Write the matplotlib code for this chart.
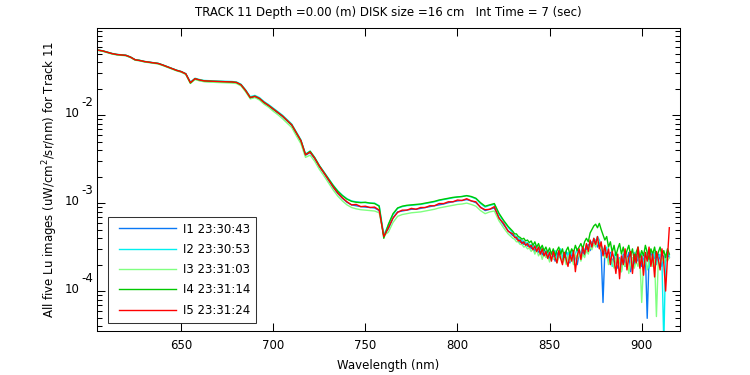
import numpy as np
import matplotlib
matplotlib.use("Agg")
import matplotlib.pyplot as plt
from matplotlib.ticker import LogLocator, NullFormatter, FixedLocator
from matplotlib.lines import Line2D
from matplotlib.legend_handler import HandlerLine2D

plt.rcParams['font.family'] = ['DejaVu Sans']

# wavelength grid (nm): coarse in the smooth part, 1 nm in the noisy tail
wavelength = np.concatenate([np.arange(605, 828, 2.5), np.arange(830, 915.5, 1.0)])

# log10 of Lu (uW/cm^2/sr/nm)
I1_log = [
    -1.262, -1.272, -1.287, -1.302, -1.312, -1.317, -1.322, -1.342, -1.372, -1.38,
    -1.392, -1.40, -1.407, -1.414, -1.432, -1.452, -1.472, -1.492, -1.507, -1.532,
    -1.625, -1.59, -1.605, -1.615, -1.618, -1.62, -1.622, -1.623, -1.625, -1.627,
    -1.633, -1.66, -1.725, -1.80, -1.79, -1.815, -1.86, -1.895, -1.935, -1.975,
    -2.015, -2.065, -2.115, -2.205, -2.295, -2.455, -2.425, -2.495, -2.585, -2.66,
    -2.74, -2.82, -2.89, -2.945, -2.99, -3.02, -3.03, -3.04, -3.045, -3.05,
    -3.055, -3.085, -3.37, -3.29, -3.17, -3.10, -3.09, -3.08, -3.07, -3.07,
    -3.06, -3.05, -3.04, -3.03, -3.02, -3.01, -2.995, -2.985, -2.975, -2.97,
    -2.96, -2.975, -2.995, -3.045, -3.085, -3.07, -3.055, -3.165, -3.245, -3.315,
    -3.37, -3.37, -3.41, -3.41, -3.45, -3.43, -3.47, -3.45, -3.49, -3.47,
    -3.52, -3.49, -3.55, -3.51, -3.56, -3.53, -3.59, -3.54, -3.61, -3.57,
    -3.64, -3.57, -3.60, -3.66, -3.56, -3.62, -3.58, -3.66, -3.60, -3.55,
    -3.62, -3.68, -3.56, -3.64, -3.60, -3.70, -3.58, -3.62, -3.54, -3.60,
    -3.52, -3.47, -3.54, -3.44, -3.48, -3.42, -3.50, -3.45, -3.56, -4.13,
    -3.55, -3.58, -3.64, -3.56, -3.68, -3.60, -3.66, -3.74, -3.62, -3.70,
    -3.58, -3.72, -3.64, -3.56, -3.78, -3.62, -3.70, -3.58, -3.66, -3.60,
    -3.72, -3.64, -3.58, -4.31, -3.62, -3.56, -3.70, -3.60, -3.66, -3.58,
    -3.64, -3.72, -3.60, -3.66, -3.58, -3.62]
I2_log = [
    -1.258, -1.268, -1.283, -1.298, -1.308, -1.313, -1.318, -1.338, -1.368, -1.376,
    -1.388, -1.396, -1.403, -1.41, -1.428, -1.448, -1.468, -1.488, -1.503, -1.528,
    -1.625, -1.58, -1.595, -1.605, -1.608, -1.61, -1.612, -1.613, -1.615, -1.617,
    -1.622, -1.648, -1.712, -1.79, -1.775, -1.80, -1.845, -1.88, -1.92, -1.96,
    -2.0, -2.05, -2.10, -2.19, -2.28, -2.44, -2.41, -2.48, -2.57, -2.645,
    -2.72, -2.795, -2.86, -2.91, -2.95, -2.975, -2.985, -2.99, -2.995, -3.0,
    -3.00, -3.03, -3.36, -3.25, -3.13, -3.06, -3.04, -3.03, -3.025, -3.02,
    -3.015, -3.005, -2.995, -2.985, -2.97, -2.96, -2.95, -2.94, -2.93, -2.925,
    -2.915, -2.93, -2.95, -3.005, -3.045, -3.025, -3.015, -3.125, -3.205, -3.275,
    -3.34, -3.37, -3.38, -3.40, -3.41, -3.43, -3.43, -3.46, -3.45, -3.48,
    -3.47, -3.51, -3.48, -3.53, -3.50, -3.55, -3.51, -3.57, -3.54, -3.59,
    -3.55, -3.61, -3.57, -3.54, -3.64, -3.58, -3.52, -3.62, -3.56, -3.66,
    -3.56, -3.62, -3.54, -3.66, -3.58, -3.52, -3.60, -3.55, -3.50, -3.54,
    -3.48, -3.52, -3.44, -3.47, -3.40, -3.44, -3.38, -3.42, -3.48, -3.52,
    -3.56, -3.50, -3.66, -3.58, -3.72, -3.60, -3.56, -3.68, -3.62, -3.78,
    -3.62, -3.56, -3.70, -3.64, -3.58, -3.74, -3.56, -3.66, -3.60, -3.70,
    -3.58, -3.68, -3.62, -3.56, -3.74, -3.60, -3.66, -3.56, -3.70, -3.62,
    -3.58, -3.66, -4.60, -3.60, -3.56, -3.60]
I3_log = [
    -1.265, -1.275, -1.29, -1.305, -1.315, -1.32, -1.325, -1.345, -1.375, -1.383,
    -1.395, -1.403, -1.41, -1.418, -1.436, -1.456, -1.476, -1.496, -1.512, -1.537,
    -1.64, -1.595, -1.61, -1.62, -1.624, -1.626, -1.628, -1.63, -1.632, -1.635,
    -1.64, -1.668, -1.735, -1.815, -1.80, -1.828, -1.875, -1.91, -1.955, -1.995,
    -2.04, -2.09, -2.14, -2.235, -2.325, -2.48, -2.455, -2.525, -2.615, -2.69,
    -2.77, -2.85, -2.92, -2.975, -3.02, -3.05, -3.065, -3.075, -3.08, -3.085,
    -3.09, -3.11, -3.37, -3.33, -3.22, -3.15, -3.13, -3.12, -3.11, -3.105,
    -3.10, -3.09, -3.08, -3.07, -3.055, -3.045, -3.035, -3.025, -3.015, -3.01,
    -3.00, -3.015, -3.035, -3.085, -3.12, -3.10, -3.09, -3.20, -3.28, -3.35,
    -3.40, -3.41, -3.44, -3.44, -3.47, -3.47, -3.50, -3.49, -3.52, -3.51,
    -3.55, -3.52, -3.58, -3.53, -3.60, -3.56, -3.64, -3.57, -3.62, -3.60,
    -3.67, -3.58, -3.64, -3.60, -3.68, -3.62, -3.58, -3.68, -3.62, -3.70,
    -3.60, -3.66, -3.62, -3.70, -3.58, -3.64, -3.56, -3.66, -3.58, -3.62,
    -3.54, -3.58, -3.50, -3.53, -3.46, -3.50, -3.44, -3.48, -3.52, -3.56,
    -3.62, -3.58, -3.70, -3.62, -3.66, -3.74, -3.62, -3.70, -3.64, -3.78,
    -3.66, -3.72, -3.62, -3.80, -3.68, -3.62, -3.74, -3.66, -3.72, -3.62,
    -4.13, -3.70, -3.62, -3.76, -3.66, -3.60, -3.72, -3.64, -4.29, -3.66,
    -3.70, -3.62, -3.68, -3.60, -3.66, -3.62]
I4_log = [
    -1.262, -1.27, -1.285, -1.30, -1.31, -1.316, -1.32, -1.34, -1.37, -1.378,
    -1.39, -1.398, -1.405, -1.412, -1.43, -1.45, -1.47, -1.49, -1.505, -1.53,
    -1.635, -1.585, -1.60, -1.61, -1.613, -1.615, -1.617, -1.618, -1.62, -1.622,
    -1.628, -1.655, -1.72, -1.80, -1.785, -1.81, -1.855, -1.89, -1.93, -1.97,
    -2.01, -2.06, -2.11, -2.20, -2.29, -2.45, -2.41, -2.485, -2.575, -2.65,
    -2.725, -2.80, -2.865, -2.915, -2.955, -2.98, -2.99, -2.995, -2.99, -3.0,
    -3.005, -3.035, -3.40, -3.24, -3.12, -3.055, -3.035, -3.025, -3.02, -3.015,
    -3.01, -3.0, -2.99, -2.98, -2.965, -2.955, -2.945, -2.935, -2.93, -2.925,
    -2.915, -2.925, -2.945, -2.995, -3.035, -3.02, -3.005, -3.115, -3.195, -3.265,
    -3.32, -3.35, -3.35, -3.38, -3.39, -3.41, -3.40, -3.43, -3.42, -3.45,
    -3.43, -3.48, -3.44, -3.50, -3.46, -3.52, -3.48, -3.54, -3.50, -3.56,
    -3.51, -3.58, -3.52, -3.60, -3.54, -3.50, -3.58, -3.52, -3.62, -3.54,
    -3.50, -3.58, -3.52, -3.56, -3.48, -3.54, -3.50, -3.46, -3.52, -3.44,
    -3.40, -3.44, -3.34, -3.30, -3.26, -3.24, -3.28, -3.23, -3.30, -3.36,
    -3.42, -3.38, -3.50, -3.44, -3.56, -3.48, -3.60, -3.52, -3.46, -3.58,
    -3.50, -3.62, -3.54, -3.48, -3.60, -3.52, -3.66, -3.56, -3.50, -3.62,
    -3.54, -3.60, -3.48, -3.56, -3.64, -3.52, -3.58, -3.50, -3.62, -3.56,
    -3.50, -3.60, -3.54, -3.62, -3.52, -3.58]
I5_log = [
    -1.26, -1.27, -1.285, -1.30, -1.31, -1.315, -1.32, -1.34, -1.37, -1.378,
    -1.39, -1.398, -1.405, -1.412, -1.43, -1.45, -1.47, -1.49, -1.505, -1.53,
    -1.63, -1.585, -1.60, -1.61, -1.613, -1.615, -1.617, -1.618, -1.62, -1.622,
    -1.628, -1.655, -1.72, -1.80, -1.785, -1.81, -1.855, -1.89, -1.93, -1.97,
    -2.01, -2.06, -2.11, -2.20, -2.29, -2.45, -2.42, -2.49, -2.58, -2.655,
    -2.735, -2.815, -2.885, -2.94, -2.985, -3.02, -3.015, -3.04, -3.035, -3.05,
    -3.045, -3.08, -3.38, -3.28, -3.17, -3.105, -3.08, -3.08, -3.06, -3.07,
    -3.05, -3.05, -3.03, -3.03, -3.005, -3.005, -2.985, -2.985, -2.965, -2.97,
    -2.95, -2.975, -2.985, -3.05, -3.075, -3.07, -3.04, -3.17, -3.23, -3.32,
    -3.35, -3.39, -3.39, -3.43, -3.42, -3.46, -3.44, -3.48, -3.46, -3.50,
    -3.48, -3.53, -3.49, -3.55, -3.50, -3.58, -3.52, -3.60, -3.55, -3.63,
    -3.56, -3.66, -3.55, -3.62, -3.68, -3.54, -3.63, -3.70, -3.56, -3.64,
    -3.72, -3.58, -3.66, -3.54, -3.78, -3.60, -3.52, -3.64, -3.50, -3.58,
    -3.46, -3.55, -3.42, -3.50, -3.40, -3.47, -3.38, -3.52, -3.44, -3.60,
    -3.48, -3.62, -3.52, -3.70, -3.55, -3.64, -3.80, -3.58, -3.86, -3.60,
    -3.70, -3.52, -3.76, -3.62, -3.55, -3.80, -3.58, -3.68, -3.50, -3.74,
    -3.60, -3.82, -3.56, -3.66, -3.50, -3.72, -3.58, -3.84, -3.55, -3.64,
    -3.76, -3.52, -3.68, -4.00, -3.62, -3.28]

series_labels = ['I1 23:30:43', 'I2 23:30:53', 'I3 23:31:03', 'I4 23:31:14', 'I5 23:31:24']
series_colors = ['#0a78f5', '#00f0f0', '#80ff80', '#00c800', '#ff0000']
xticks = [650, 700, 750, 800, 850, 900]
ytick_exponents = [-4, -3, -2]

W, H = 750, 375
fig = plt.figure(figsize=(W / 100, H / 100), dpi=100)
ax = fig.add_axes([97 / W, 1 - 330.5 / H, 583 / W, 302.5 / H])

for vals, lab, col in zip([I1_log, I2_log, I3_log, I4_log, I5_log], series_labels, series_colors):
    ax.plot(wavelength, 10 ** np.array(vals), color=col, lw=1.0, label=lab)

ax.set_yscale('log')
ax.set_xlim(604.3, 920.8)
ax.set_ylim(3.56e-5, 0.098)
ax.xaxis.set_major_locator(FixedLocator(xticks))
ax.yaxis.set_major_locator(LogLocator(base=10, numticks=10))
ax.yaxis.set_minor_locator(LogLocator(base=10, subs=np.arange(2, 10), numticks=20))
ax.yaxis.set_major_formatter(NullFormatter())
ax.yaxis.set_minor_formatter(NullFormatter())

ax.tick_params(which='both', direction='in', top=True, right=True, labelsize=8.5, width=0.75)
ax.tick_params(axis='x', which='major', length=5.5, pad=6)
ax.tick_params(axis='y', which='major', length=5.5)
ax.tick_params(which='minor', length=3.5)
for s in ax.spines.values():
    s.set_linewidth(0.75)

# MATLAB-style "10^-n" tick labels
px = 0.72  # points per pixel at 100 dpi
for e in ytick_exponents:
    ax.annotate('10', xy=(0, 10.0 ** e), xycoords=('axes fraction', 'data'),
                xytext=(-17 * px, 2 * px), textcoords='offset points',
                ha='right', va='center', fontsize=8.5)
    ax.annotate('-%d' % abs(e), xy=(0, 10.0 ** e), xycoords=('axes fraction', 'data'),
                xytext=(-15.5 * px, 12.5 * px), textcoords='offset points',
                ha='left', va='center', fontsize=8.5)

ax.set_title('TRACK 11 Depth =0.00 (m) DISK size =16 cm   Int Time = 7 (sec)', fontsize=8.5, pad=8.5)
ax.set_xlabel('Wavelength (nm)', fontsize=8.5, labelpad=5)
ax.set_ylabel('All five Lu images (uW/cm$^2$/sr/nm) for Track 11', fontsize=8.5, labelpad=23)

leg = ax.legend(loc='lower left', bbox_to_anchor=(11 / 583, 7.8 / 302.5), borderaxespad=0,
                fontsize=8.5, frameon=True, fancybox=False, edgecolor='black',
                handlelength=5.25, handletextpad=0.6, labelspacing=0.62, borderpad=0.5,
                handler_map={Line2D: HandlerLine2D(xpad=0.42)})
leg.get_frame().set_linewidth(0.75)

fig.savefig('out.png', dpi=100)
